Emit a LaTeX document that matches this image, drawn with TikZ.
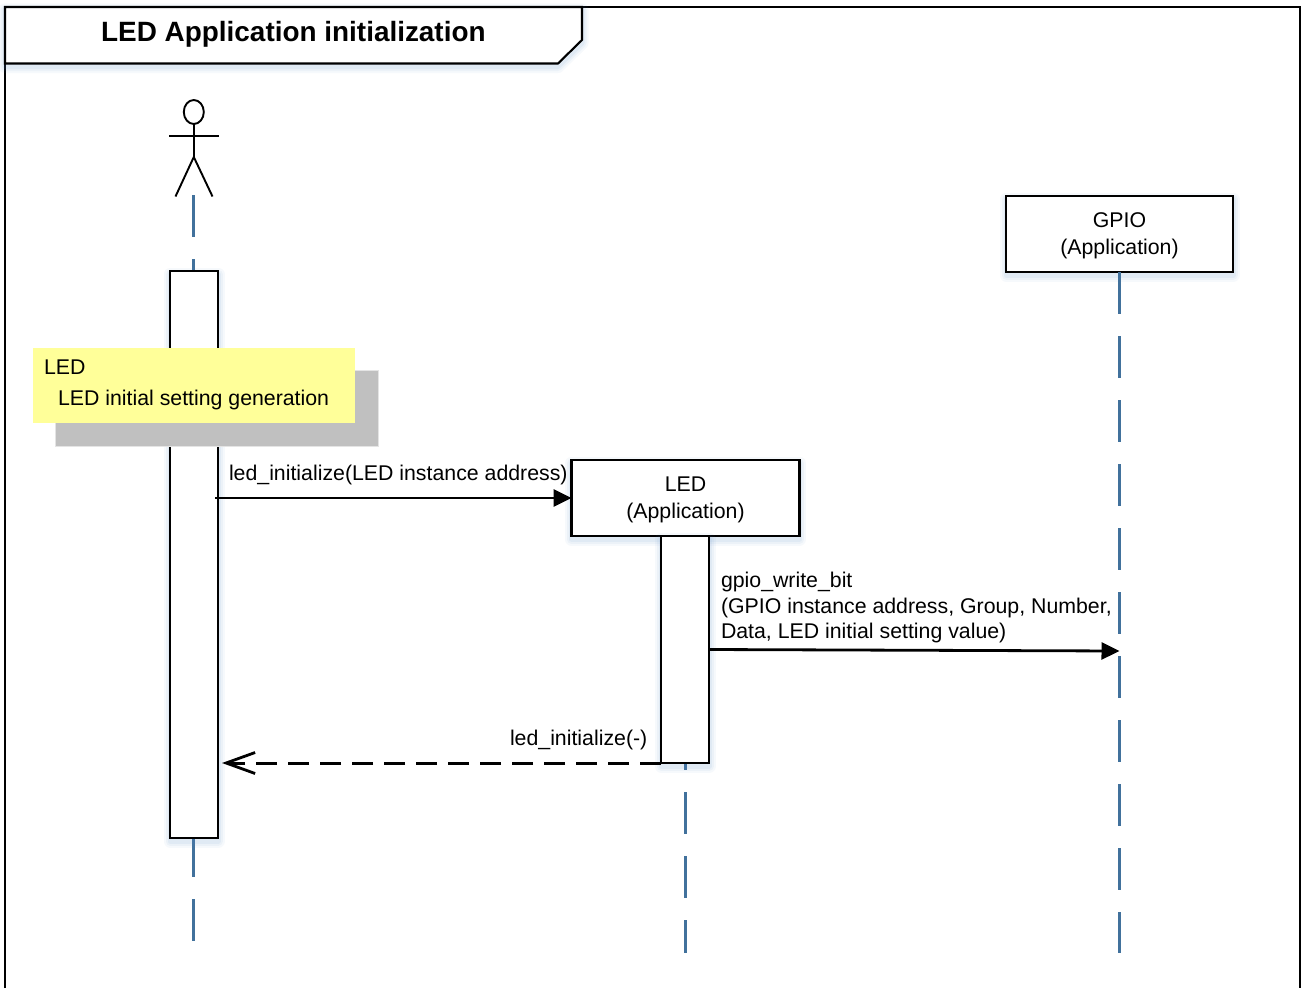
\documentclass[tikz,border=0pt]{standalone}
\usepackage{fontspec}
\setmainfont{Liberation Sans}
\usetikzlibrary{arrows.meta,shapes.geometric}
\definecolor{lifeblue}{RGB}{65,113,156}
\definecolor{shadowblue}{RGB}{91,140,200}
\definecolor{noteyellow}{RGB}{255,255,153}
\definecolor{notegray}{RGB}{192,192,192}
\newcommand{\labelstrut}{\rule{0pt}{18pt}}
\tikzset{
  softshadow/.style={
    preaction={draw=shadowblue,draw opacity=.05,fill=none,line width=13pt,line join=round,transform canvas={yshift=-3pt}},
    preaction={draw=shadowblue,draw opacity=.06,fill=none,line width=9pt,line join=round,transform canvas={yshift=-3pt}},
    preaction={draw=shadowblue,draw opacity=.08,fill=none,line width=5pt,line join=round,transform canvas={yshift=-3pt}}},
  objbox/.style={draw=black,fill=white,line width=2.1pt,rectangle,inner sep=0pt,outer sep=0pt,softshadow,
    font=\fontsize{21.3}{26.5}\selectfont,align=center},
  actbox/.style={draw=black,fill=white,line width=2.1pt,rectangle,inner sep=0pt,outer sep=0pt,softshadow,minimum width=48pt},
  lifeline/.style={draw=lifeblue,line width=2.6pt,dash pattern=on 42pt off 22pt},
  msgtext/.style={inner sep=0pt,outer sep=0pt,font=\fontsize{21.3}{25.5}\selectfont,align=left},
  stick/.style={draw=black,line width=1.9pt},
  call/.style={draw=black,line width=2.8pt,-{Triangle[length=18pt,width=17pt]}},
  reply/.style={draw=black,line width=3pt,dash pattern=on 21pt off 11pt,-{Straight Barb[length=29pt,width=21pt,line width=2.8pt]}}
}
\begin{document}
\begin{tikzpicture}[x=1pt,y=-1pt]
\useasboundingbox (0,0) rectangle (1301,988);
\fill[white] (0,0) rectangle (1301,988);
% frame
\draw[black,line width=2.1pt] (5,988) -- (5,7) -- (1300.5,7) -- (1300.5,988);
\draw[black,line width=2.1pt,fill=white,softshadow,line join=miter] (5,7) -- (582,7) -- (582,40) -- (558,63.5) -- (5,63.5) -- cycle;
\node[inner sep=0pt,anchor=base west,font=\fontsize{27.9}{30}\selectfont\bfseries] (title) at (101,41) {LED Application initialization};
% actor
\node[draw=black,line width=1.9pt,ellipse,minimum width=20pt,minimum height=24pt,inner sep=0pt,outer sep=0pt,fill=white] (head) at (193.8,112) {};
\coordinate (hip) at (193.8,157);
\coordinate (armL) at (169,135.7);
\coordinate (armR) at (219,135.7);
\coordinate (footL) at (175.5,196.5);
\coordinate (footR) at (212.5,196.5);
\draw[stick] (head.south) -- (hip);
\draw[stick] (armL) -- (armR);
\draw[stick] (footL) -- (hip) -- (footR);
% lifelines
\coordinate (actorTop) at (193.5,195);
\coordinate (actorEnd) at (193.5,941);
\node[objbox,minimum width=227pt,minimum height=76pt] (gpio) at (1119.5,234) {\labelstrut GPIO\\(Application)};
\node[objbox,minimum width=228pt,minimum height=76pt] (led) at (685.5,498) {\labelstrut LED\\(Application)};
\coordinate (ledEnd) at (685.5,953);
\coordinate (gpioEnd) at (1119.5,953);
\draw[lifeline] (actorTop) -- (actorEnd);
\draw[lifeline] (led.south) -- (ledEnd);
\draw[lifeline] (gpio.south) -- (gpioEnd);
% activations
\node[actbox,minimum height=567pt] (act1) at (194,554.5) {};
\node[actbox,minimum height=227pt] (act2) at (685,649.5) {};
% note
\node[fill=notegray,draw=black!8!white!85!notegray,line width=1pt,minimum width=323pt,minimum height=76pt,inner sep=0pt,outer sep=0pt] (noteback) at (216.5,408) {};
\node[fill=noteyellow,minimum width=322pt,minimum height=75pt,inner sep=0pt,outer sep=0pt] (note) at (194,385.5) {};
\node[msgtext,anchor=base west] (notetitle) at (44,374) {LED};
\node[msgtext,anchor=base west] (notebody) at (58,405) {LED initial setting generation};
% messages
\coordinate (m1s) at (215,498);
\coordinate (m2s) at (709,649.5);
\coordinate (m2e) at (1119.5,651);
\coordinate (m3s) at (661,763);
\coordinate (m3e) at (222,763);
\draw[call] (m1s) -- (led.west);
\draw[call] (m2s) -- (m2e);
\draw[reply] (m3s) -- (m3e);
\node[msgtext,anchor=base west] (m1t) at (229,480.5) {led\_initialize(LED instance address)};
\node[msgtext,anchor=north west] (m2t) at (721,572.5) {gpio\_write\_bit\\(GPIO instance address, Group, Number,\\Data, LED initial setting value)};
\node[msgtext,anchor=base west] (m3t) at (510,745) {led\_initialize(-)};
\end{tikzpicture}
\end{document}
